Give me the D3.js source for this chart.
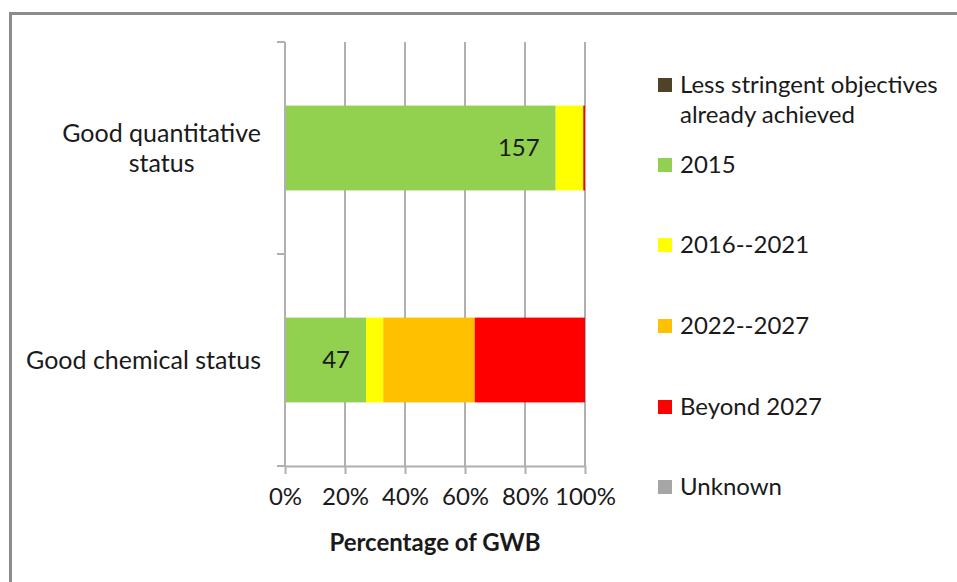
<!DOCTYPE html>
<html>
<head>
    <meta charset="utf-8">
    <script src="https://d3js.org/d3.v7.min.js"></script>
    <style>
        body { margin: 0; background: #fff; }
        svg text {
            font-family: Lato, "Liberation Sans", sans-serif;
            fill: #1a1a1a;
        }
    </style>
    <title>GWB objectives</title>
</head>
<body>
    <svg width="957" height="582"></svg>
    <script>
        // data: number of groundwater bodies per objective year
        var categories = ["Good quantitative status", "Good chemical status"];
        var seriesNames = ["Less stringent objectives already achieved", "2015", "2016--2021", "2022--2027", "Beyond 2027", "Unknown"];
        var lessStringent = [0, 0];
        var y2015 = [157, 47];
        var y2016_2021 = [16, 10];
        var y2022_2027 = [0, 53];
        var beyond2027 = [1, 64];
        var unknown = [0, 0];
        var xTicks = [0, 0.2, 0.4, 0.6, 0.8, 1];
        var xTitle = "Percentage of GWB";

        var colors = ["#4f4228", "#92d050", "#ffff00", "#ffc000", "#ff0000", "#a6a6a6"];
        var allSeries = [lessStringent, y2015, y2016_2021, y2022_2027, beyond2027, unknown];

        var svg = d3.select("svg");

        // chart frame
        svg.append("rect")
            .attr("x", 10.5).attr("y", 13.5)
            .attr("width", 980).attr("height", 600)
            .attr("fill", "none")
            .attr("stroke", "#8c8c8c")
            .attr("stroke-width", 3);

        var pLeft = 285, pRight = 585, pTop = 42, pBottom = 466;

        var x = d3.scaleLinear().domain([0, 1]).range([pLeft, pRight]);
        var y = d3.scaleBand().domain(categories).range([pTop, pBottom])
            .paddingInner(0.6).paddingOuter(0.3);

        // build the stacked table (share of total per category)
        var table = categories.map(function (c, i) {
            var row = { cat: c };
            var total = d3.sum(allSeries, function (s) { return s[i]; });
            seriesNames.forEach(function (n, k) { row[n] = allSeries[k][i] / total; });
            return row;
        });
        var stacked = d3.stack().keys(seriesNames)(table);

        // gridlines
        svg.append("g").selectAll("line")
            .data(xTicks.slice(1))
            .enter().append("line")
            .attr("x1", function (d) { return x(d); })
            .attr("x2", function (d) { return x(d); })
            .attr("y1", pTop).attr("y2", pBottom)
            .attr("stroke", "#b0b0b0")
            .attr("stroke-width", 2);

        // bars
        var layers = svg.append("g").selectAll("g")
            .data(stacked)
            .enter().append("g")
            .attr("fill", function (d, i) { return colors[i]; });

        layers.selectAll("rect")
            .data(function (d) { return d; })
            .enter().append("rect")
            .attr("x", function (d) { return x(d[0]); })
            .attr("width", function (d) { return x(d[1]) - x(d[0]); })
            .attr("y", function (d) { return y(d.data.cat); })
            .attr("height", y.bandwidth());

        // data labels for the 2015 series (inside end)
        svg.append("g").selectAll("text")
            .data(stacked[1])
            .enter().append("text")
            .attr("x", function (d) { return x(d[1]) - 16; })
            .attr("y", function (d) { return y(d.data.cat) + y.bandwidth() / 2; })
            .attr("dy", "0.35em")
            .attr("text-anchor", "end")
            .attr("font-size", "24px")
            .text(function (d, i) { return y2015[i]; });

        // x axis
        var xAxis = svg.append("g")
            .attr("transform", "translate(0," + pBottom + ")")
            .call(d3.axisBottom(x).tickValues(xTicks).tickFormat(d3.format(".0%")).tickSizeInner(8).tickSizeOuter(0).tickPadding(14));
        xAxis.select(".domain").attr("stroke", "#b0b0b0").attr("stroke-width", 2);
        xAxis.selectAll(".tick line").attr("stroke", "#b0b0b0").attr("stroke-width", 2);
        xAxis.selectAll(".tick text").attr("font-size", "24px").attr("font-family", null);

        // y axis (category boundaries as ticks)
        var yAxis = svg.append("g");
        yAxis.append("line")
            .attr("x1", pLeft).attr("x2", pLeft)
            .attr("y1", pTop).attr("y2", pBottom)
            .attr("stroke", "#b0b0b0").attr("stroke-width", 2);
        var bounds = d3.range(categories.length + 1).map(function (i) {
            return pTop + i * (pBottom - pTop) / categories.length;
        });
        yAxis.selectAll(".yt")
            .data(bounds)
            .enter().append("line")
            .attr("x1", pLeft - 8).attr("x2", pLeft)
            .attr("y1", function (d) { return d; })
            .attr("y2", function (d) { return d; })
            .attr("stroke", "#b0b0b0").attr("stroke-width", 2);

        function wrap(words, maxW, size, weight) {
            var tmp = svg.append("text").attr("font-size", size).attr("font-weight", weight || null);
            var lines = [], cur = "";
            words.split(" ").forEach(function (w) {
                var t = cur ? cur + " " + w : w;
                tmp.text(t);
                if (tmp.node().getComputedTextLength() > maxW && cur) {
                    lines.push(cur);
                    cur = w;
                } else {
                    cur = t;
                }
            });
            lines.push(cur);
            tmp.remove();
            return lines;
        }

        // category labels, block right-aligned, lines centred
        var lineH = 30;
        categories.forEach(function (c) {
            var lines = wrap(c, 245, "25px");
            var g = svg.append("g");
            var cy = y(c) + y.bandwidth() / 2;
            var texts = lines.map(function (l, i) {
                return g.append("text")
                    .attr("font-size", "25px")
                    .attr("text-anchor", "middle")
                    .attr("y", cy + (i - (lines.length - 1) / 2) * lineH)
                    .attr("dy", "0.35em")
                    .text(l);
            });
            var maxW = d3.max(texts, function (t) { return t.node().getComputedTextLength(); });
            texts.forEach(function (t) { t.attr("x", 261 - maxW / 2); });
        });

        // x axis title
        svg.append("text")
            .attr("x", x(0.5))
            .attr("y", 543)
            .attr("dy", "0.35em")
            .attr("text-anchor", "middle")
            .attr("font-size", "24px")
            .attr("font-weight", "bold")
            .text(xTitle);

        // legend
        var legY = [85, 165, 245, 326, 407, 487];
        seriesNames.forEach(function (n, i) {
            var lines = wrap(n, 270, "24px");
            svg.append("rect")
                .attr("x", 658).attr("y", legY[i] - 7)
                .attr("width", 14).attr("height", 14)
                .attr("fill", colors[i]);
            lines.forEach(function (l, j) {
                svg.append("text")
                    .attr("x", 680)
                    .attr("y", legY[i] + j * lineH)
                    .attr("dy", "0.35em")
                    .attr("font-size", "24px")
                    .text(l);
            });
        });
    </script>
</body>
</html>
